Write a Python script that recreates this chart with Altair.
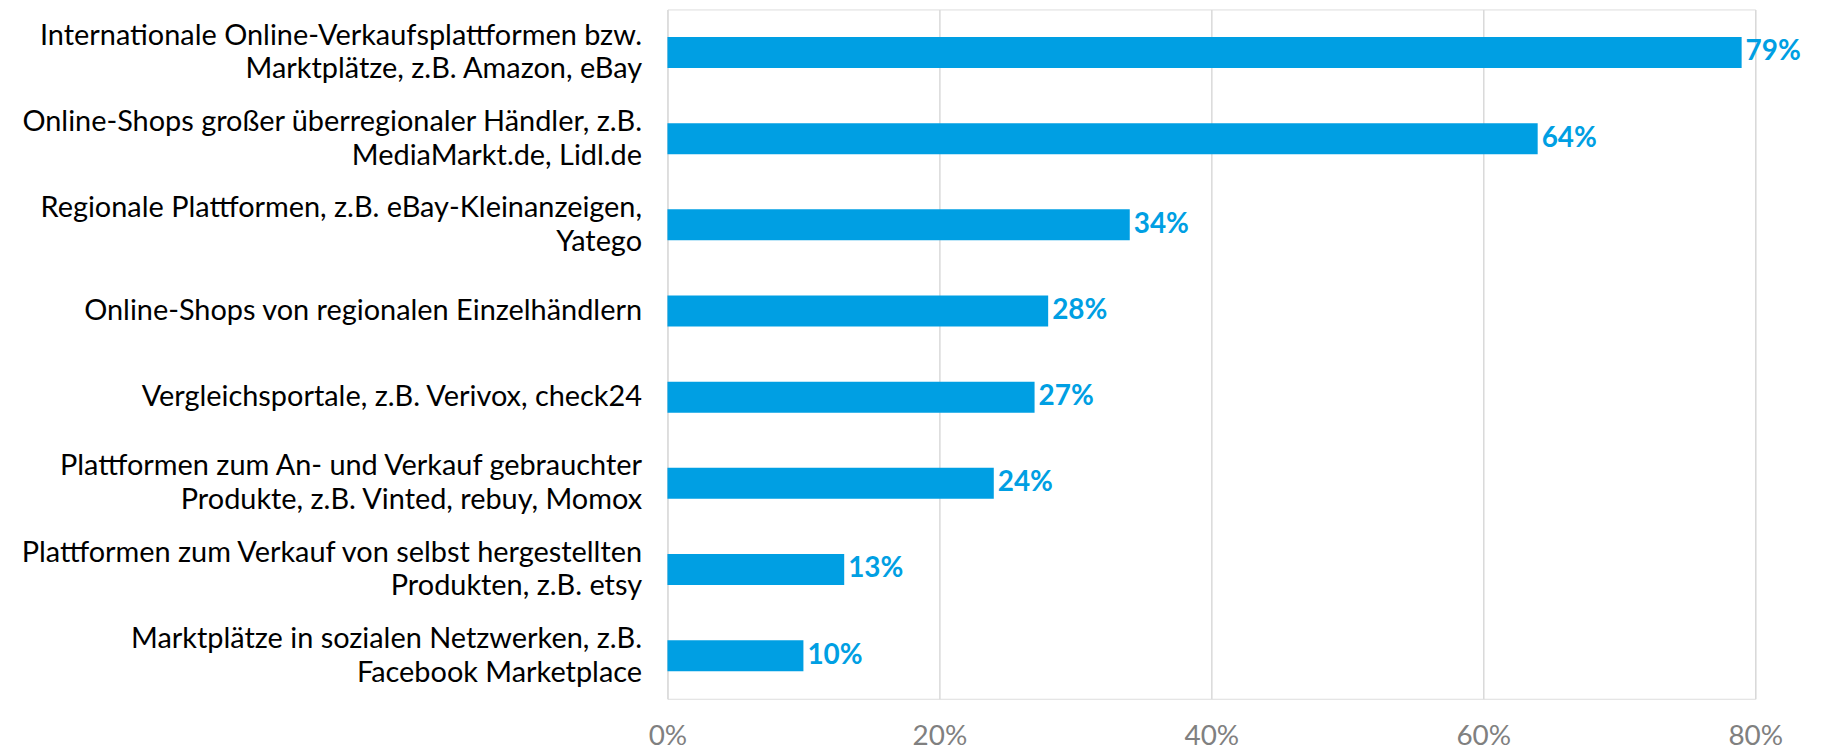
import altair as alt
import pandas as pd

categories = [
    "Internationale Online-Verkaufsplattformen bzw.|Marktplätze, z.B. Amazon, eBay",
    "Online-Shops großer überregionaler Händler, z.B.|MediaMarkt.de, Lidl.de",
    "Regionale Plattformen, z.B. eBay-Kleinanzeigen,|Yatego",
    "Online-Shops von regionalen Einzelhändlern",
    "Vergleichsportale, z.B. Verivox, check24",
    "Plattformen zum An- und Verkauf gebrauchter|Produkte, z.B. Vinted, rebuy, Momox",
    "Plattformen zum Verkauf von selbst hergestellten|Produkten, z.B. etsy",
    "Marktplätze in sozialen Netzwerken, z.B.|Facebook Marketplace",
]
values = [0.79, 0.64, 0.34, 0.28, 0.27, 0.24, 0.13, 0.10]
x_ticks = [0, 0.2, 0.4, 0.6, 0.8]

df = pd.DataFrame({"cat": categories, "val": values})

BLUE = "#009FE3"
FONT = "Lato"
LINE_H = 34

y_enc = alt.Y(
    "cat:N",
    sort=categories,
    title=None,
    scale=alt.Scale(paddingInner=0.64, paddingOuter=0.32),
    axis=alt.Axis(
        labelExpr="split(datum.label, '|')",
        labelFontSize=29,
        labelFont=FONT,
        labelColor="#000000",
        labelLineHeight=LINE_H,
        labelPadding=26,
        labelLimit=800,
        labelOffset={
            "condition": {"test": "indexof(datum.value, '|') >= 0", "value": -LINE_H / 2},
            "value": 0,
        },
        domain=False,
        ticks=False,
        grid=False,
    ),
)

x_enc = alt.X(
    "val:Q",
    title=None,
    scale=alt.Scale(domain=[0, 0.8], nice=False),
    axis=alt.Axis(
        values=x_ticks,
        format=".0%",
        labelFontSize=28,
        labelFont=FONT,
        labelColor="#808080",
        labelPadding=24,
        labelFlush=False,
        domain=False,
        ticks=False,
        grid=True,
        gridColor="#d9d9d9",
        gridWidth=1.5,
    ),
)

bars = alt.Chart(df).mark_bar(color=BLUE).encode(x=x_enc, y=y_enc)

text = alt.Chart(df).mark_text(
    align="left",
    baseline="middle",
    dx=4,
    fontSize=28,
    fontWeight="bold",
    font=FONT,
    color=BLUE,
).encode(
    x=alt.X("val:Q"),
    y=alt.Y("cat:N", sort=categories),
    text=alt.Text("val:Q", format=".0%"),
)

chart = (
    alt.layer(bars, text)
    .properties(
        width=1092,
        height=692,
        autosize=alt.AutoSizeParams(type="none"),
        padding={"left": 662, "top": 0, "right": 60, "bottom": 50},
    )
    .configure_view(stroke=None)
    .configure(background="white")
)

chart.save("out.html", embed_options={"renderer": "svg", "actions": False})
